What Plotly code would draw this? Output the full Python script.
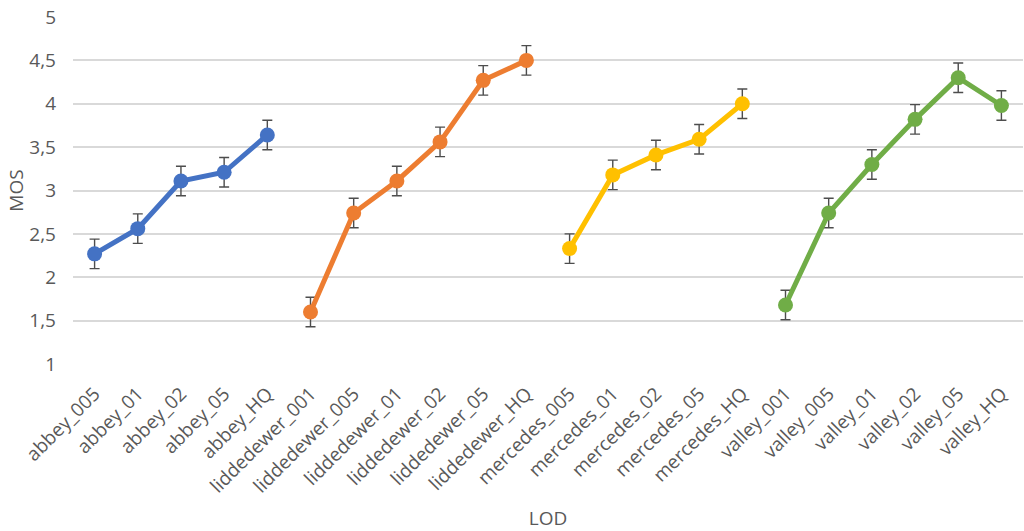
import plotly.graph_objects as go

# Level-of-detail variants per scene
abbey_lod = ["abbey_005", "abbey_01", "abbey_02", "abbey_05", "abbey_HQ"]
liddedewer_lod = ["liddedewer_001", "liddedewer_005", "liddedewer_01",
                  "liddedewer_02", "liddedewer_05", "liddedewer_HQ"]
mercedes_lod = ["mercedes_005", "mercedes_01", "mercedes_02", "mercedes_05", "mercedes_HQ"]
valley_lod = ["valley_001", "valley_005", "valley_01", "valley_02", "valley_05", "valley_HQ"]

# Mean opinion scores
abbey_mos = [2.27, 2.56, 3.11, 3.21, 3.64]
liddedewer_mos = [1.60, 2.74, 3.11, 3.56, 4.27, 4.50]
mercedes_mos = [2.33, 3.18, 3.41, 3.59, 4.00]
valley_mos = [1.68, 2.74, 3.30, 3.82, 4.30, 3.98]

# Confidence intervals (half width)
abbey_ci = [0.17, 0.17, 0.17, 0.17, 0.17]
liddedewer_ci = [0.17, 0.17, 0.17, 0.17, 0.17, 0.17]
mercedes_ci = [0.17, 0.17, 0.17, 0.17, 0.17]
valley_ci = [0.17, 0.17, 0.17, 0.17, 0.17, 0.17]

y_ticks = [1, 1.5, 2, 2.5, 3, 3.5, 4, 4.5, 5]
y_tick_text = ["1", "1,5", "2", "2,5", "3", "3,5", "4", "4,5", "5"]

series = [
    (abbey_lod, abbey_mos, abbey_ci, "#4472C4"),
    (liddedewer_lod, liddedewer_mos, liddedewer_ci, "#ED7D31"),
    (mercedes_lod, mercedes_mos, mercedes_ci, "#FFC000"),
    (valley_lod, valley_mos, valley_ci, "#70AD47"),
]

fig = go.Figure()
for lod, mos, ci, color in series:
    fig.add_trace(go.Scatter(
        x=lod, y=mos, mode="lines+markers",
        line=dict(color=color, width=5),
        marker=dict(color=color, size=15),
        error_y=dict(type="data", array=ci, visible=True,
                     color="#4d4d4d", thickness=1.4, width=5),
        showlegend=False,
    ))

all_lod = abbey_lod + liddedewer_lod + mercedes_lod + valley_lod
font_family = "Open Sans, Liberation Sans, sans-serif"
text_grey = "#595959"

fig.update_layout(
    width=1024, height=531,
    margin=dict(l=73, r=1, t=17, b=167, autoexpand=False),
    paper_bgcolor="white", plot_bgcolor="white",
    font=dict(family=font_family, color=text_grey, size=19),
    xaxis=dict(
        type="category", categoryorder="array", categoryarray=all_lod,
        range=[-0.5, len(all_lod) - 0.5], automargin=False,
        tickangle=-45, showgrid=False, zeroline=False, showline=False,
        ticks="", ticklabelstandoff=14,
        tickfont=dict(size=19, color=text_grey),
        title=dict(text="LOD", font=dict(size=19, color=text_grey), standoff=30),
    ),
    yaxis=dict(
        range=[1, 5], tickvals=y_ticks, ticktext=y_tick_text, automargin=False,
        showgrid=True, gridcolor="#d9d9d9", gridwidth=1.5,
        zeroline=False, showline=False, ticks="",
        ticklabelstandoff=16,
        tickfont=dict(size=19, color=text_grey),
        title=dict(text="MOS", font=dict(size=19, color=text_grey), standoff=0),
    ),
)

fig.write_html("out.html")
